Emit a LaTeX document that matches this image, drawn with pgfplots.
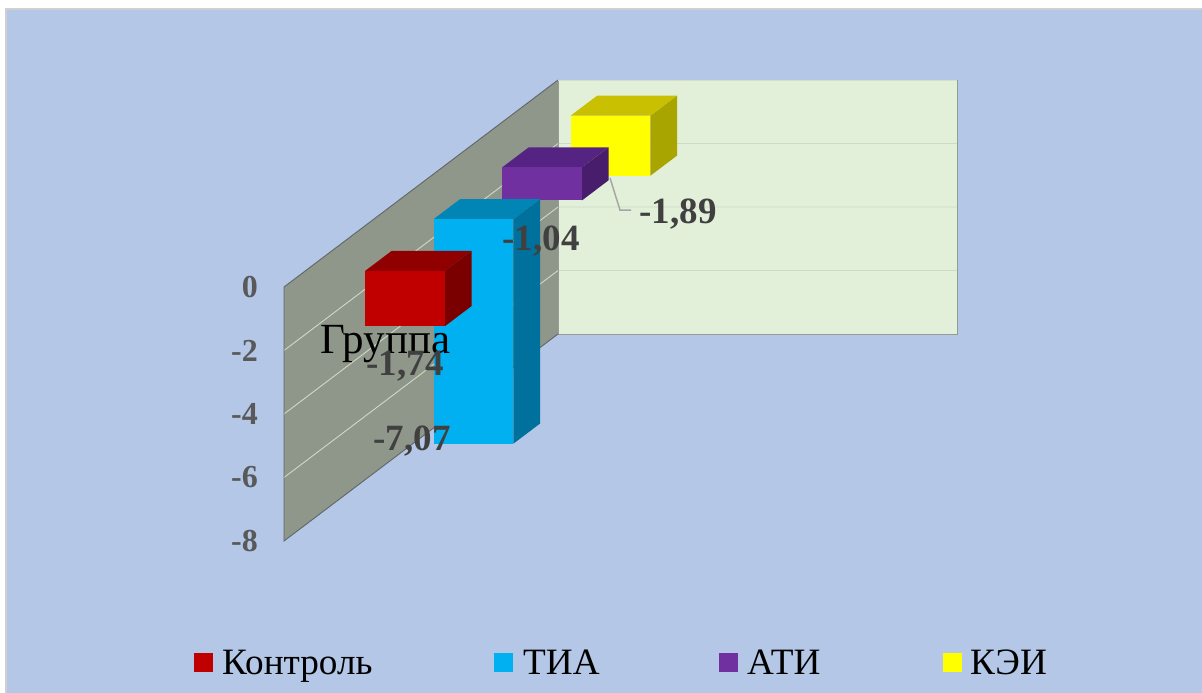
\documentclass[border=0pt]{standalone}
\usepackage{pgfplots}
\pgfplotsset{compat=1.18}
\usepackage{fontspec}
\setmainfont{Liberation Serif}

\definecolor{panel}{HTML}{B4C7E7}
\definecolor{panelrim}{HTML}{D0D0D0}
\definecolor{sidewall}{HTML}{8E9789}
\definecolor{backwall}{HTML}{E3F0D9}
\definecolor{wallrule}{HTML}{5F6668}
\definecolor{labelgrey}{HTML}{404040}
\definecolor{tickgrey}{HTML}{595959}
\definecolor{leader}{HTML}{A6A6A6}
\definecolor{redF}{HTML}{C00000}
\definecolor{redT}{HTML}{900000}
\definecolor{redS}{HTML}{7A0000}
\definecolor{blueF}{HTML}{00B0F0}
\definecolor{blueT}{HTML}{0085B5}
\definecolor{blueS}{HTML}{00709C}
\definecolor{violetF}{HTML}{7030A0}
\definecolor{violetT}{HTML}{552382}
\definecolor{violetS}{HTML}{481D6B}
\definecolor{yellowF}{HTML}{FFFF00}
\definecolor{yellowT}{HTML}{C8C000}
\definecolor{yellowS}{HTML}{A8A400}

% One hanging column: x from #1 to #2, depth from #3 to #4, value #5; front, top, side colours
\newcommand{\column}[8]{%
  \addplot3[fill=#8,draw=none,forget plot] coordinates {(#2,#3,0) (#2,#4,0) (#2,#4,#5) (#2,#3,#5)} --cycle;
  \addplot3[fill=#7,draw=none,forget plot] coordinates {(#1,#3,0) (#2,#3,0) (#2,#4,0) (#1,#4,0)} --cycle;
  \addplot3[fill=#6,draw=none,forget plot] coordinates {(#1,#3,0) (#2,#3,0) (#2,#3,#5) (#1,#3,#5)} --cycle;
}
% Legend key with its caption, set on baseline y = 674
\newcommand{\legendkey}[4]{%
  \fill[#2] (#1,-653) rectangle ++(19,-19);
  \node[anchor=base west,inner sep=0pt,font=\fontsize{37.2}{37}\selectfont] at (#3,-674) {#4};
}
\newcommand{\barlabel}[3]{%
  \node[anchor=base,inner sep=0pt,text=labelgrey,font=\fontsize{37}{37}\selectfont\bfseries] at (#1,-#2) {#3};
}

\begin{document}
\begin{tikzpicture}[x=1pt,y=1pt]
\useasboundingbox (0,0) rectangle (1202,-693);
\fill[white] (0,0) rectangle (1202,-693);
\fill[panelrim] (5,-8) rectangle (1202,-693);
\fill[panel] (7,-10) rectangle (1202,-693);

\begin{axis}[
  at={(284pt,-541pt)}, anchor=south west,
  x={(399pt,0pt)}, y={(68.5pt,51.75pt)}, z={(0pt,31.75pt)},
  xmin=0, xmax=1, ymin=0, ymax=4, zmin=-8, zmax=0,
  clip=false,
  axis line style={draw=none},
  xtick=\empty, ytick=\empty,
  ztick={-8,-6,-4,-2,0},
  zticklabels={-8,-6,-4,-2,0},
  major tick length=0pt,
  zticklabel pos=left,
  z tick label style={font=\fontsize{32}{32}\selectfont\bfseries,text=tickgrey,anchor=east,inner sep=0pt,xshift=-26pt},
]
% side wall and back wall
\addplot3[fill=sidewall,draw=none,forget plot] coordinates {(0,0,0) (0,4,0) (0,4,-8) (0,0,-8)} --cycle;
\addplot3[fill=backwall,draw=none,forget plot] coordinates {(0,4,0) (1,4,0) (1,4,-8) (0,4,-8)} --cycle;
% gridlines on the walls
\addplot3[draw=backwall!75!sidewall,line width=0.9pt,forget plot] coordinates {(0,0,-2) (0,4,-2) (1,4,-2)};
\addplot3[draw=backwall!75!sidewall,line width=0.9pt,forget plot] coordinates {(0,0,-4) (0,4,-4) (1,4,-4)};
\addplot3[draw=backwall!75!sidewall,line width=0.9pt,forget plot] coordinates {(0,0,-6) (0,4,-6) (1,4,-6)};
% wall edges
\addplot3[draw=wallrule,line width=0.9pt,forget plot] coordinates {(0,4,-8) (0,0,-8) (0,0,0) (0,4,0)};
\addplot3[draw=wallrule!60!backwall,line width=0.8pt,forget plot] coordinates {(0,4,0) (0,4,-8) (1,4,-8) (1,4,0)};
\addplot3[draw=backwall!85!gray,line width=0.8pt,forget plot] coordinates {(0,4,0) (1,4,0)};
% columns, back to front
\column{0.15}{0.35}{3.31}{3.70}{-1.89}{yellowF}{yellowT}{yellowS}
\column{0.15}{0.35}{2.31}{2.70}{-1.04}{violetF}{violetT}{violetS}
\column{0.15}{0.35}{1.31}{1.70}{-7.07}{blueF}{blueT}{blueS}
\column{0.15}{0.35}{0.31}{0.70}{-1.74}{redF}{redT}{redS}
\end{axis}

% leader from the yellow column to its value
\draw[leader,line width=1.5pt] (610,-178) -- (620,-210) -- (631,-210);

\node[anchor=base,inner sep=0pt,font=\fontsize{43}{43}\selectfont] at (385.5,-353) {Группа};
\barlabel{678}{223}{-1,89}
\barlabel{541}{250}{-1,04}
\barlabel{405}{375}{-1,74}
\barlabel{412}{450}{-7,07}

\legendkey{194}{redF}{222}{Контроль}
\legendkey{494}{blueF}{523}{ТИА}
\legendkey{719}{violetF}{747}{АТИ}
\legendkey{943}{yellowF}{970}{КЭИ}
\end{tikzpicture}
\end{document}
